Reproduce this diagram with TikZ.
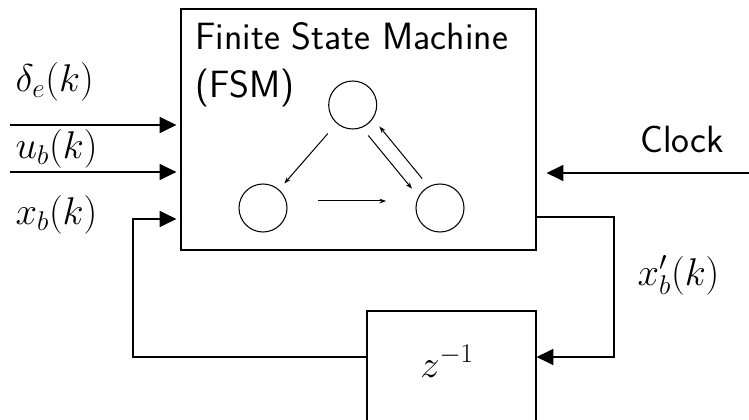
\documentclass[tikz,border=0pt]{standalone}
\usepackage{fix-cm}
\usepackage{fontspec}
\usetikzlibrary{arrows.meta}

\tikzset{every picture/.style={line width=0.9pt}}
\tikzset{
  blk/.style={draw, rectangle, inner sep=0pt},
  state/.style={draw, circle, line width=0.8pt, minimum size=36pt, inner sep=0pt},
  sig/.style={-{Triangle[length=12.5pt,width=12pt]}},
  fsmedge/.style={line width=0.75pt, -{Stealth[length=5pt,width=3.5pt]}},
  lbl/.style={inner sep=0pt, font=\fontsize{29}{34}\selectfont},
  txt/.style={inner sep=0pt, font=\fontsize{28.5}{34}\selectfont\sffamily}
}

\begin{document}
\begin{tikzpicture}[x=0.75pt,y=0.75pt,yscale=-1,xscale=1]
%set diagram to 749 x 420
\clip (0,0) rectangle (749,420);

%Shape: FSM block
\node[blk, minimum width=266.25pt, minimum height=180.75pt] (fsm) at (358.5,129.5) {};
%Shape: delay block (runs out of the picture at the bottom)
\node[blk, minimum width=126.75pt, minimum height=112.5pt] (delay) at (451.5,386) {};

% Text Node
\node[txt, anchor=base west] (title) at (195,50) {Finite State Machine};
% Text Node
\node[txt, anchor=base west] (abbr) at (195,98) {(FSM)};

%States
\node[state] (s1) at (352.7,105) {};
\node[state] (s2) at (263,208) {};
\node[state] (s3) at (440,208) {};

%Transitions
\draw[fsmedge, shorten <=10pt, shorten >=6pt] (s1) -- (s2);
\draw[fsmedge, shorten <=7.5pt, shorten >=7.5pt] (s1.292) -- (s3.152);
\draw[fsmedge, shorten <=7.5pt, shorten >=7.5pt] (s3.118) -- (s1.326);
\draw[fsmedge, shorten <=23pt, shorten >=22pt] ([yshift=-5.25pt]s2.east) -- ([yshift=-5.25pt]s3.west);

%Inputs
\coordinate (din) at (10,125);
\coordinate (uin) at (10,172);
\coordinate (xin) at (133,219);
\coordinate (clk) at (749,173);
\coordinate (xout) at (614,217);
\coordinate (fb) at (0,357);

\draw[sig, shorten >=3pt] (din) -- (din -| fsm.west);
\draw[sig, shorten >=3pt] (uin) -- (uin -| fsm.west);
\draw[sig, shorten >=7.5pt] (clk) -- (clk -| fsm.east);

%Feedback loop
\draw[sig] (fsm.east |- xout) -- (xout) |- (delay.east |- fb);
\draw[sig, shorten >=3pt] (delay.west |- fb) -| (xin) -- (xin -| fsm.west);

% Text Node
\node[lbl, anchor=base west] (dlbl) at (15,92) {$\delta_e(k)$};
% Text Node
\node[lbl, anchor=base west] (ulbl) at (15,159) {$u_b(k)$};
% Text Node
\node[lbl, anchor=base west] (xlbl) at (15,225) {$x_b(k)$};
% Text Node
\node[lbl, anchor=base west] (xplbl) at (637,285) {$x'_b(k)$};
% Text Node
\node[lbl, anchor=base] (zlbl) at (447,377) {$z^{-1}$};
% Text Node
\node[txt, anchor=base west] (clbl) at (640,153) {Clock};

\end{tikzpicture}
\end{document}
